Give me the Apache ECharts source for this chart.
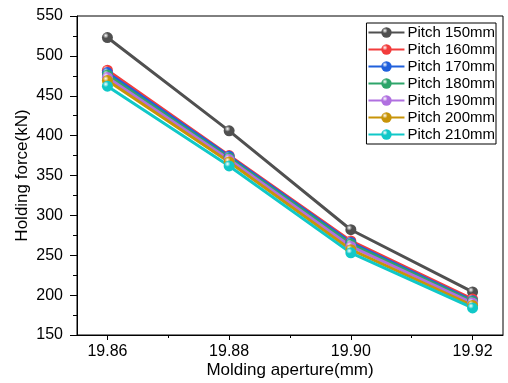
<!DOCTYPE html>
<html>
<head>
<meta charset="utf-8">
<script src="https://cdn.jsdelivr.net/npm/echarts@6/dist/echarts.min.js"></script>
<style>html,body{margin:0;padding:0;background:#fff;}#c{width:508px;height:383px;}</style>
</head>
<body>
<div id="c"></div>
<script>
var apertures = [19.86, 19.88, 19.90, 19.92];
var xTickValues = [19.86, 19.88, 19.90, 19.92];
var xMinorValues = [19.87, 19.89, 19.91];
var seriesNames = ['Pitch 150mm','Pitch 160mm','Pitch 170mm','Pitch 180mm','Pitch 190mm','Pitch 200mm','Pitch 210mm'];
var p150 = [523, 406, 282, 204];
var p160 = [482, 375, 268, 195];
var p170 = [479, 374, 266, 193];
var p180 = [476, 372, 264, 192];
var p190 = [473, 370, 261, 190];
var p200 = [469, 367, 257, 187];
var p210 = [462, 362, 253, 184];
var colors = ['#505050','#f23c3c','#2060dc','#2ea56a','#b070e0','#c89408','#10c8c8'];

var allData = [p150,p160,p170,p180,p190,p200,p210];
var FONT = "'Liberation Sans', Arial, sans-serif";

function grad(c){
  return {type:'radial', x:0.35, y:0.32, r:0.75,
    colorStops:[{offset:0,color:'#ffffff'},{offset:0.35,color:c},{offset:1,color:c}]};
}

var series = allData.map(function(d,i){
  return {
    name: seriesNames[i], type:'line', xAxisIndex:0,
    data: apertures.map(function(x,j){return [x,d[j]];}),
    symbol:'circle', symbolSize:11,
    lineStyle:{color:colors[i], width:3},
    itemStyle:{color:grad(colors[i])},
    emphasis:{disabled:true}
  };
});

var chart = echarts.init(document.getElementById('c'));
chart.setOption({
  animation:false,
  textStyle:{fontFamily:FONT},
  grid:{left:77, right:5, top:16, bottom:48, show:true, borderColor:'#000', borderWidth:1,
        containLabel:false, outerBoundsMode:'none'},
  legend:{
    orient:'vertical', right:12, top:23,
    itemWidth:36, itemHeight:13, itemGap:2,
    borderColor:'#000', borderWidth:1, padding:[2,1,2,1],
    textStyle:{fontSize:15, color:'#000', fontFamily:FONT, padding:[0,0,0,-2]},
    data: seriesNames
  },
  xAxis:[{
    type:'value', min:19.855, max:19.925,
    name:'Molding aperture(mm)', nameLocation:'middle', nameGap:27, nameMoveOverlap:false,
    nameTextStyle:{fontSize:17, color:'#000', fontFamily:FONT},
    axisLine:{show:true, lineStyle:{color:'#000', width:1}},
    axisTick:{show:true, length:5, customValues:xTickValues, lineStyle:{color:'#000'}},
    axisLabel:{customValues:xTickValues, fontSize:16, color:'#000', margin:9, fontFamily:FONT,
      formatter:function(v){return v.toFixed(2);}},
    splitLine:{show:false}
  },{
    type:'value', min:19.855, max:19.925, position:'bottom', gridIndex:0,
    axisLine:{show:false},
    axisTick:{show:true, length:3, customValues:xMinorValues, lineStyle:{color:'#000'}},
    axisLabel:{show:false},
    splitLine:{show:false}
  }],
  yAxis:{
    type:'value', min:150, max:550, interval:50,
    name:'Holding force(kN)', nameLocation:'middle', nameGap:46, nameMoveOverlap:false,
    nameTextStyle:{fontSize:17, color:'#000', fontFamily:FONT},
    axisLine:{show:true, lineStyle:{color:'#000', width:1}},
    axisTick:{show:true, length:7, lineStyle:{color:'#000'}},
    minorTick:{show:true, splitNumber:2, length:4, lineStyle:{color:'#000'}},
    axisLabel:{fontSize:16, color:'#000', margin:14, fontFamily:FONT},
    splitLine:{show:false}
  },
  series: series
});
</script>
</body>
</html>
